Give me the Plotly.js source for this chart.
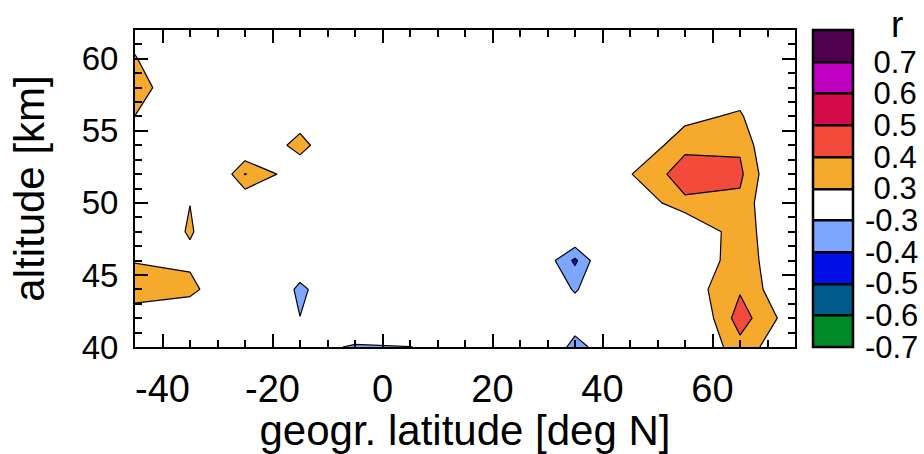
<!DOCTYPE html>
<html><head><meta charset="utf-8">
<script src="https://cdn.plot.ly/plotly-3.0.1.min.js"></script>
<style>html,body{margin:0;padding:0;background:#fff}#chart{width:924px;height:454px}</style>
</head><body><div id="chart"></div>
<script>
// grid: geographic latitude (deg N) and altitude (km)
const latitude = [-45, -35, -25, -15, -5, 5, 15, 25, 35, 45, 55, 65, 75];
const altitude = [40, 42, 44, 46, 48, 50, 52, 54, 56, 58, 60, 62];
// correlation coefficient r, one row per altitude (bottom to top)
const r_alt40 = [0.200, 0.100, -0.050, -0.194, -0.330, -0.305, -0.205, -0.062, -0.342, -0.167, 0.146, 0.366, 0.183];
const r_alt42 = [0.235, 0.066, -0.100, -0.298, 0.003, 0.000, -0.050, -0.100, -0.233, -0.050, 0.140, 0.448, 0.230];
const r_alt44 = [0.360, 0.378, -0.057, -0.330, -0.130, -0.100, -0.150, -0.150, -0.310, -0.150, 0.236, 0.389, 0.177];
const r_alt46 = [0.294, 0.248, 0.050, -0.205, -0.100, -0.100, -0.150, -0.087, -0.420, 0.009, 0.176, 0.370, 0.167];
const r_alt48 = [0.098, 0.320, 0.034, 0.000, 0.000, -0.050, -0.100, -0.100, -0.162, 0.100, 0.145, 0.380, 0.113];
const r_alt50 = [0.100, 0.298, 0.205, 0.120, 0.050, 0.000, -0.050, -0.050, -0.020, 0.190, 0.380, 0.378, 0.078];
const r_alt52 = [0.150, -0.032, 0.405, 0.224, 0.100, 0.050, 0.000, -0.020, 0.050, 0.294, 0.452, 0.421, 0.071];
const r_alt54 = [0.200, 0.100, 0.179, 0.338, 0.138, 0.050, 0.000, -0.020, 0.020, 0.178, 0.375, 0.385, 0.045];
const r_alt56 = [0.297, 0.120, 0.100, 0.246, 0.100, 0.000, -0.020, -0.030, 0.000, 0.100, 0.264, 0.321, 0.000];
const r_alt58 = [0.395, 0.100, 0.050, 0.080, 0.020, -0.020, -0.030, -0.050, 0.000, 0.050, 0.150, 0.220, 0.000];
const r_alt60 = [0.310, 0.100, 0.050, 0.050, 0.000, -0.050, -0.050, -0.080, -0.050, 0.000, 0.080, 0.150, 0.000];
const r_alt62 = [0.244, 0.120, 0.050, 0.020, 0.000, -0.050, -0.080, -0.100, -0.050, 0.000, 0.050, 0.100, 0.000];
const rValues = [r_alt40, r_alt42, r_alt44, r_alt46, r_alt48, r_alt50, r_alt52, r_alt54, r_alt56, r_alt58, r_alt60, r_alt62];

// contour levels and their colours
const posLevels = [0.3, 0.4, 0.5, 0.6, 0.7];
const posColors = ['#f6aa2d', '#f24b3b', '#d40a4a', '#c000c0', '#50004f'];
const negLevels = [-0.3, -0.4, -0.5, -0.6];
const negColors = ['#7da6ff', '#0010e6', '#005a8c', '#008a26'];

// colour bar
const cbarBounds = [-0.7, -0.6, -0.5, -0.4, -0.3, 0.3, 0.4, 0.5, 0.6, 0.7];
const cbarLabels = ['-0.7', '-0.6', '-0.5', '-0.4', '-0.3', '0.3', '0.4', '0.5', '0.6', '0.7'];
const cbarColors = ['#008a26', '#005a8c', '#0010e6', '#7da6ff', '#ffffff', '#f6aa2d', '#f24b3b', '#d40a4a', '#c000c0', '#50004f'];

// axes ticks
const xTickVals = [-40, -20, 0, 20, 40, 60];
const xTickText = ['-40', '-20', '0', '20', '40', '60'];
const yTickVals = [40, 45, 50, 55, 60];
const yTickText = ['40', '45', '50', '55', '60'];

// map r onto colour-bar band index (bands of equal height)
function bandIndex(r) {
  const b = cbarBounds;
  if (r < b[0]) return (r - b[0]) / (b[1] - b[0]);
  for (let k = 0; k < b.length - 1; k++) {
    if (r < b[k + 1]) return k + (r - b[k]) / (b[k + 1] - b[k]);
  }
  const n = b.length - 1;
  return n + (r - b[n]) / (b[n] - b[n - 1]);
}
const sValues = rValues.map(row => row.map(bandIndex));
const nBands = cbarColors.length;
// stepped colour scale: one solid band per unit of band index
const steppedScale = [];
cbarColors.forEach((c, k) => { steppedScale.push([k / nBands, c]); steppedScale.push([(k + 1) / nBands, c]); });

const allR = rValues.flat();
const traces = [];
// invisible trace that carries the colour bar
traces.push({
  type: 'contour', x: latitude, y: altitude, z: sValues,
  opacity: 0, hoverinfo: 'skip',
  zauto: false, zmin: 0, zmax: nBands,
  autocontour: false,
  contours: {start: 1, end: nBands - 1, size: 1, coloring: 'heatmap', showlines: true},
  line: {color: 'black', width: 2.5, smoothing: 0},
  colorscale: steppedScale,
  showscale: true,
  colorbar: {
    x: 1.0273, xanchor: 'left', xpad: 0, y: 0.5, yanchor: 'middle', ypad: 0,
    len: 1, lenmode: 'fraction', thickness: 40, thicknessmode: 'pixels',
    outlinewidth: 2.5, outlinecolor: 'black',
    tickmode: 'array', tickvals: cbarLabels.map((t, k) => k),
    ticktext: cbarLabels.map(t => (t.startsWith('-') ? t : '\u00a0' + t)),
    ticks: 'outside', ticklen: 5, tickcolor: 'rgba(0,0,0,0)', tickfont: {size: 31, color: 'black'}
  }
});
// Plotly shades the side of a constraint contour that fails the test,
// so the region r > v is drawn with operation '<' and r < v with '>'.
posLevels.forEach((v, i) => {
  if (!allR.some(r => r > v)) return;
  traces.push({
    type: 'contour', x: latitude, y: altitude, z: rValues, hoverinfo: 'skip', showscale: false,
    contours: {type: 'constraint', operation: '<', value: v, showlines: true},
    fillcolor: posColors[i], line: {color: 'black', width: 1.2, smoothing: 0}
  });
});
negLevels.forEach((v, i) => {
  if (!allR.some(r => r < v)) return;
  traces.push({
    type: 'contour', x: latitude, y: altitude, z: rValues, hoverinfo: 'skip', showscale: false,
    contours: {type: 'constraint', operation: '>', value: v, showlines: true},
    fillcolor: negColors[i], line: {color: 'black', width: 1.2, smoothing: 0}
  });
});

const axisCommon = {
  tickmode: 'array', ticks: 'inside', ticklen: 13, tickwidth: 2, tickcolor: 'black',
  showline: true, linewidth: 2, linecolor: 'black', mirror: 'allticks',
  showgrid: false, zeroline: false, automargin: false
};
const layout = {
  width: 924, height: 454,
  margin: {l: 135, r: 129, t: 30, b: 107, pad: 0, autoexpand: false},
  paper_bgcolor: 'white', plot_bgcolor: 'white',
  font: {family: 'Liberation Sans, Arial, sans-serif', color: 'black', size: 32},
  showlegend: false,
  xaxis: Object.assign({}, axisCommon, {
    range: [-45, 75], tickvals: xTickVals, ticktext: xTickText, ticklabelstandoff: 7,
    tickfont: {size: 38, color: 'black'},
    minor: {tickmode: 'linear', tick0: 0, dtick: 5, ticks: 'inside', ticklen: 7, tickwidth: 2, tickcolor: 'black', showgrid: false},
    title: {text: 'geogr. latitude [deg N]', font: {size: 42}, standoff: 6}
  }),
  yaxis: Object.assign({}, axisCommon, {
    range: [40, 62], tickvals: yTickVals, ticktext: yTickText, ticklabelstandoff: 8,
    tickfont: {size: 33, color: 'black'},
    minor: {tickmode: 'linear', tick0: 0, dtick: 1, ticks: 'inside', ticklen: 7, tickwidth: 2, tickcolor: 'black', showgrid: false},
    title: {text: 'altitude [km]', font: {size: 42}, standoff: 24}
  }),
  annotations: [{
    text: 'r', xref: 'paper', yref: 'paper', x: 1.1545, y: 0.946, xanchor: 'center', yanchor: 'bottom',
    showarrow: false, font: {size: 37, color: 'black'}
  }]
};
Plotly.newPlot('chart', traces, layout, {staticPlot: true, displayModeBar: false});
</script>
</body></html>
